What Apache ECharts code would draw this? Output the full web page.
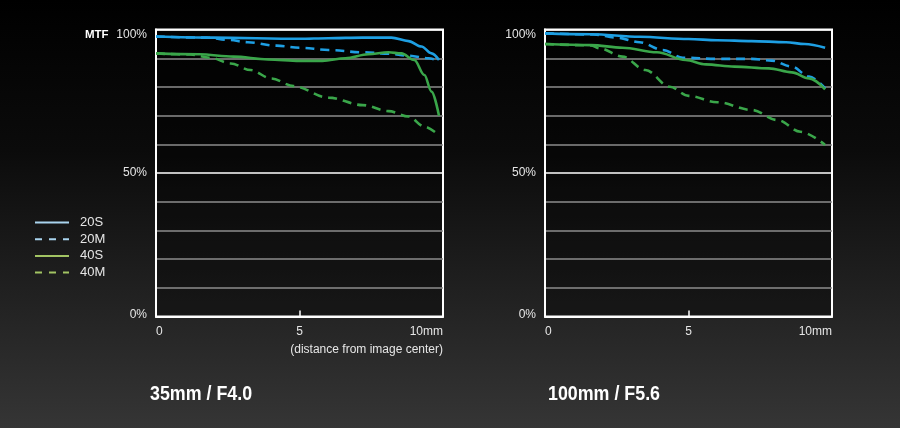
<!DOCTYPE html>
<html>
<head>
<meta charset="utf-8">
<script src="https://cdn.jsdelivr.net/npm/echarts@6/dist/echarts.min.js"></script>
<style>
html,body{margin:0;padding:0;background:#000;}
#chart{width:900px;height:428px;}
</style>
</head>
<body>
<div id="chart"></div>
<script>
// ---- data (x = distance from image center in mm, y = MTF %) ----
const seriesNames = ['20S', '20M', '40S', '40M'];
const xTicks = ['0', '5', '10mm'];
const yTickLabels = ['0%', '50%', '100%'];
const chartTitles = ['35mm / F4.0', '100mm / F5.6'];

const left20S = [[0,97.6],[2,97.2],[5,96.8],[6,97.0],[7.2,97.2],[8.2,97.2],[8.8,96.0],[9.25,94.1],[9.6,91.7],[9.86,89.4]];
const left20M = [[0,97.6],[1.8,97.2],[2.5,96.4],[3.2,95.6],[4.2,94.4],[5,93.7],[6,92.9],[7.2,92.1],[8.1,91.6],[8.8,90.9],[9.5,90.0],[9.86,89.1]];
const left40S = [[0,91.7],[1.5,91.4],[2.7,90.6],[3.9,89.6],[5,89.1],[5.8,89.1],[6.6,90.0],[7.4,91.4],[8.1,92.1],[8.55,91.7],[9.0,89.4],[9.35,84.2],[9.6,78.4],[9.86,70.0]];
const left40M = [[0,91.7],[1.2,91.3],[1.9,90.2],[2.6,88.2],[3.3,85.9],[4.0,83.0],[4.8,80.3],[6.0,76.3],[7.2,73.7],[8.1,71.6],[8.8,69.7],[9.35,66.2],[9.84,63.3]];

const right20S = [[0,98.7],[1.6,98.4],[3.3,97.5],[5,96.7],[6,96.3],[7.2,96.0],[8.4,95.6],[9.05,95.0],[9.76,93.7]];
const right20M = [[0,98.7],[1.7,98.3],[2.5,97.2],[3.3,95.6],[4.1,92.9],[4.8,90.2],[6,89.8],[7.2,89.8],[7.9,89.2],[8.6,87.1],[9.2,83.6],[9.76,79.5]];
const right40S = [[0,95.0],[1.6,94.6],[2.7,93.7],[3.9,92.1],[4.9,89.4],[5.6,87.9],[6.6,87.1],[7.8,86.5],[8.6,85.1],[9.2,83.0],[9.76,79.2]];
const right40M = [[0,95.0],[1.6,94.5],[1.9,93.5],[2.7,90.6],[3.5,85.9],[4.35,80.1],[5,76.9],[6,74.7],[7.2,72.0],[8.1,68.5],[8.9,64.4],[9.76,59.8]];

// ---- styling ----
const BLUE = '#1e9fe3';
const GREEN = '#3aa64a';
const LEG_BLUE = '#a9d4ee';
const LEG_GREEN = '#a2c463';
const TXT = '#e6e6e6';
const FONT = 'Liberation Sans, Arial, sans-serif';
const TITLE_FONT = 'bold 20.5px "Liberation Sans", Arial, sans-serif';

const chart = echarts.init(document.getElementById('chart'), null, {renderer: 'canvas'});

function xAxisCfg(gridIndex) {
  return {
    gridIndex, type: 'value', min: 0, max: 10, interval: 5,
    axisLine: {show: true, lineStyle: {color: '#fff', width: 2}},
    axisTick: {show: true, inside: true, length: 6, lineStyle: {color: '#fff', width: 1.5}},
    splitLine: {show: false},
    axisLabel: {
      color: TXT, fontFamily: FONT, fontSize: 12, margin: 9,
      alignMinLabel: 'left', alignMaxLabel: 'right',
      formatter: v => v === 0 ? xTicks[0] : (v === 5 ? xTicks[1] : xTicks[2])
    }
  };
}
function yAxisCfg(gridIndex) {
  return {
    gridIndex, type: 'value', min: 0, max: 100, interval: 10,
    axisLine: {show: true, lineStyle: {color: '#fff', width: 2}},
    axisTick: {show: false},
    splitLine: {show: true, lineStyle: {
      color: ['#fff','#8c8c8c','#8c8c8c','#8c8c8c','#8c8c8c','#fff','#8c8c8c','#8c8c8c','#8c8c8c','#8c8c8c','#fff'],
      width: 1.6}},
    axisLabel: {
      color: TXT, fontFamily: FONT, fontSize: 12, margin: 9,
      formatter: v => v === 0 ? '{b|' + yTickLabels[0] + '}' : (v === 50 ? yTickLabels[1] : (v === 100 ? '{t|' + yTickLabels[2] + '}' : '')),
      rich: {
        t: {color: TXT, fontFamily: FONT, fontSize: 12, padding: [10, 0, 0, 0]},
        b: {color: TXT, fontFamily: FONT, fontSize: 12, padding: [0, 0, 4, 0]}
      }
    }
  };
}

const styleOf = {
  '20S': {color: BLUE, type: 'solid'},
  '20M': {color: BLUE, type: [9, 6]},
  '40S': {color: GREEN, type: 'solid'},
  '40M': {color: GREEN, type: [9, 6]}
};
function mkSeries(name, data, idx) {
  return {
    name, type: 'line', xAxisIndex: idx, yAxisIndex: idx, data,
    smooth: 0.35, smoothMonotone: 'x', symbol: 'none',
    lineStyle: {color: styleOf[name].color, type: styleOf[name].type, width: 2.6},
    itemStyle: {color: styleOf[name].color},
    z: name.endsWith('S') ? 3 : 2
  };
}

const leftData = {'20S': left20S, '20M': left20M, '40S': left40S, '40M': left40M};
const rightData = {'20S': right20S, '20M': right20M, '40S': right40S, '40M': right40M};
const series = [];
seriesNames.forEach(n => series.push(mkSeries(n, leftData[n], 0)));
seriesNames.forEach(n => series.push(mkSeries(n, rightData[n], 1)));

const legendColor = {'20S': LEG_BLUE, '20M': LEG_BLUE, '40S': LEG_GREEN, '40M': LEG_GREEN};

chart.setOption({
  animation: false,
  backgroundColor: {
    type: 'linear', x: 0, y: 0, x2: 0, y2: 1,
    colorStops: [{offset: 0, color: '#000000'}, {offset: 0.35, color: '#0b0b0b'}, {offset: 1, color: '#353535'}]
  },
  grid: [
    {left: 156, right: 457, top: 29.6, bottom: 111.4, show: true, borderColor: '#fff', borderWidth: 2, backgroundColor: 'rgba(0,0,0,0.35)'},
    {left: 545, right: 68, top: 29.6, bottom: 111.4, show: true, borderColor: '#fff', borderWidth: 2, backgroundColor: 'rgba(0,0,0,0.35)'}
  ],
  xAxis: [xAxisCfg(0), xAxisCfg(1)],
  yAxis: [yAxisCfg(0), yAxisCfg(1)],
  legend: {
    orient: 'vertical', left: 34, top: 216, padding: 0,
    itemWidth: 34, itemHeight: 12, itemGap: 3.7,
    textStyle: {color: TXT, fontFamily: FONT, fontSize: 13, padding: [0, 0, 0, 6]},
    selectedMode: false,
    data: seriesNames.map(n => ({
      name: n,
      lineStyle: {color: legendColor[n], width: 2, type: n.endsWith('M') ? [7, 7] : 'solid'},
      itemStyle: {color: 'rgba(0,0,0,0)', borderWidth: 0, opacity: 0}
    }))
  },
  graphic: [
    {type: 'text', left: 85, top: 29, style: {text: 'MTF', fill: '#fff', font: 'bold 11.5px ' + FONT}},
    {type: 'text', right: 457, top: 344, style: {text: '(distance from image center)', fill: TXT, font: '12px ' + FONT}},
    {type: 'text', x: 150, y: 384, scaleX: 0.87, style: {text: chartTitles[0], fill: '#fff', font: TITLE_FONT}},
    {type: 'text', x: 548, y: 384, scaleX: 0.87, style: {text: chartTitles[1], fill: '#fff', font: TITLE_FONT}}
  ],
  series
});
</script>
</body>
</html>
